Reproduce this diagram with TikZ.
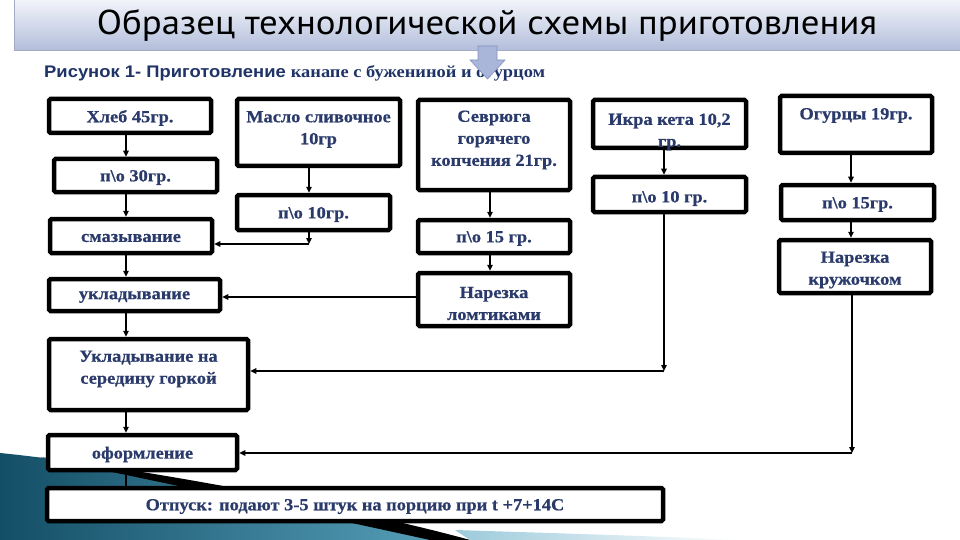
\documentclass[tikz,border=0pt]{standalone}
\usepackage{fontspec}
\setmainfont{Liberation Serif}
\newfontfamily\boxfont{Liberation Serif}[FakeStretch=1.08, FakeBold=0.6]
\newfontfamily\titlefont{PT Sans}
\newfontfamily\subsans{Liberation Sans}
\usetikzlibrary{arrows.meta}
\definecolor{navy}{HTML}{2A3A6A}
\definecolor{subnavy}{HTML}{1F3366}
\definecolor{bannertop}{HTML}{F2F4FA}
\definecolor{bannerbot}{HTML}{B3BEDB}
\definecolor{arrowfill}{HTML}{A9B5D9}
\definecolor{arrowdraw}{HTML}{8592BE}
\definecolor{tealdark}{HTML}{134F66}
\definecolor{teallight}{HTML}{5AA3BD}
\definecolor{lightblue}{HTML}{9CCADB}
\tikzset{
  boxst/.style={draw=black, line width=4.5pt, fill=white, rounded corners=1.5pt, inner sep=0pt},
  txt/.style={font=\boxfont\bfseries\fontsize{17}{22}\selectfont, text=navy, align=center, inner sep=0pt},
  arr/.style={-{Triangle[length=6pt,width=5.5pt]}, line width=1.3pt, draw=black},
  plain/.style={line width=1.3pt, draw=black}
}
% name, cx, cy, width, height, text dy (up), text
\newcommand\flowbox[7]{%
  \node[boxst, minimum width=#4pt, minimum height=#5pt] (#1) at (#2,#3) {};
  \node[txt] (#1-t) at ([yshift={#6pt-2pt}]#1.center) {#7};
}
\begin{document}
\begin{tikzpicture}[x=1pt,y=-1pt]
\useasboundingbox (0,0) rectangle (960,540);
\fill[white] (0,0) rectangle (960,540);

% bottom decoration
\shade[left color=tealdark, right color=teallight]
  (0,453) .. controls (150,468) and (350,512) .. (470,540) -- (0,540) -- cycle;
\fill[black] (40,457) .. controls (200,478) and (380,515) .. (470,540)
  -- (430,540) .. controls (330,518) and (180,486) .. (40,457) -- cycle;
\shade[left color=lightblue, right color=white]
  (455,530) .. controls (550,533) and (650,536) .. (740,540) -- (470,540) -- cycle;

% banner
\shade[top color=bannertop, bottom color=bannerbot] (14,0) rectangle (960,50);
\draw[draw=bannerbot!70!gray, line width=0.6pt] (14,0) -- (14,50) -- (960,50);
\node[anchor=base, inner sep=0pt] (title) at (487,35)
  {\resizebox{780pt}{25pt}{\titlefont\fontsize{36}{36}\selectfont Образец технологической схемы приготовления}};

% subtitle
\node[anchor=base west, inner sep=0pt, text=subnavy] (subtitle) at (44,78)
  {\resizebox{501pt}{12pt}{{\subsans\bfseries Рисунок 1- Приготовление }{\bfseries канапе с бужениной и огурцом}}};

% banner arrow
\filldraw[fill=arrowfill, draw=arrowdraw, line width=0.6pt]
  (478,46) -- (497,46) -- (497,60) -- (505,60) -- (487.5,79) -- (470,60) -- (478,60) -- cycle;

% boxes
\flowbox{hleb}{130}{116}{162}{34}{0}{Хлеб 45гр.}
\flowbox{p30}{135.5}{175.5}{163}{33}{0}{п\textbackslash о 30гр.}
\flowbox{smaz}{131}{236}{162}{34}{0}{смазывание}
\flowbox{ukl}{134.5}{295}{171}{32}{0}{укладывание}
\flowbox{ukl2}{148.5}{374.5}{199}{71}{7.5}{Укладывание на\\середину горкой}
\flowbox{oform}{142.5}{452.5}{189}{35}{0}{оформление}
\flowbox{otp}{355}{504.5}{616}{33}{0}{Отпуск: подают 3-5 штук на порцию при t +7+14С}
\flowbox{maslo}{318.5}{132.5}{163}{67}{5}{Масло сливочное\\10гр}
\flowbox{p10a}{313.5}{212.5}{153}{35}{0}{п\textbackslash о 10гр.}
\flowbox{sevr}{494}{145}{152}{90}{7}{Севрюга\\горячего\\копчения 21гр.}
\flowbox{p15a}{494}{236.5}{152}{33}{0}{п\textbackslash о 15 гр.}
\flowbox{narl}{494}{299.5}{152}{53}{-2}{Нарезка\\ломтиками}
\flowbox{ikra}{669.5}{124}{153}{48}{-6}{Икра кета 10,2\\гр.}
\flowbox{p10b}{669.5}{194.5}{153}{35}{-2}{п\textbackslash о 10 гр.}
\flowbox{ogur}{856}{124.5}{152}{57}{11}{Огурцы 19гр.}
\flowbox{p15b}{857.5}{202.5}{153}{35}{0}{п\textbackslash о 15гр.}
\flowbox{nark}{855}{266.5}{152}{53}{-1.5}{Нарезка\\кружочком}

% corner coordinates
\coordinate (c1) at (309,244);
\coordinate (c2) at (664,371);
\coordinate (c3) at (852,453);

% connectors, left column
\draw[arr] (hleb.south -| 126,0) -- (p30.north -| 126,0);
\draw[arr] (p30.south -| 126,0) -- (smaz.north -| 126,0);
\draw[arr] (smaz.south -| 126,0) -- (ukl.north -| 126,0);
\draw[arr] (ukl.south -| 126,0) -- (ukl2.north -| 126,0);
\draw[arr] (ukl2.south -| 126,0) -- (oform.north -| 126,0);
\draw[plain] (oform.south -| 126,0) -- (otp.north -| 126,0);

% butter column
\draw[arr] (maslo.south -| 309,0) -- (p10a.north -| 309,0);
\draw[arr] (p10a.south -| c1) -- (c1);
\draw[arr] (c1) -- (smaz.east |- c1);

% sturgeon column
\draw[arr] (sevr.south -| 490,0) -- (p15a.north -| 490,0);
\draw[arr] (p15a.south -| 490,0) -- (narl.north -| 490,0);
\draw[arr] (narl.west |- 0,297) -- (ukl.east |- 0,297);

% caviar column
\draw[arr] (ikra.south -| 664,0) -- (p10b.north -| 664,0);
\draw[arr] (p10b.south -| c2) -- (c2);
\draw[arr] (c2) -- (ukl2.east |- c2);

% cucumber column
\draw[arr] (ogur.south -| 851,0) -- (p15b.north -| 851,0);
\draw[arr] (p15b.south -| 851,0) -- (nark.north -| 851,0);
\draw[arr] (nark.south -| c3) -- (c3);
\draw[arr] (c3) -- (oform.east |- c3);
\end{tikzpicture}
\end{document}
